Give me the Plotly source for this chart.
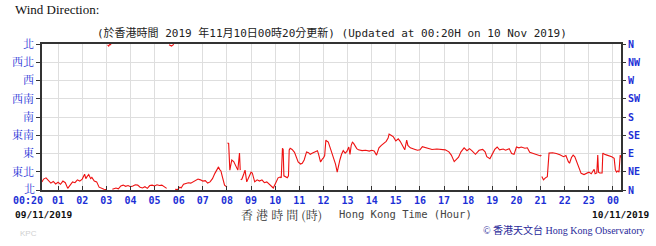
import plotly.graph_objects as go

# ---- data (hours since 00:00 on 09/11/2019, wind direction in degrees) ----
hours = [0.33,0.4,0.5,0.6,0.7,0.8,0.9,1.0,1.1,1.2,1.3,1.4,1.5,1.6,1.7,1.8,1.9,2.0,2.1,2.15,2.2,2.27,2.35,2.4,2.5,2.6,2.7,2.8,2.9,3.0,
         3.02,3.05,3.1,3.15,3.2,3.22,
         3.25,3.4,3.5,3.6,3.7,3.8,3.9,4.0,4.1,4.2,4.3,4.4,4.5,4.6,4.7,4.8,4.9,5.0,5.1,5.2,5.3,5.4,5.5,
         5.55,5.6,5.7,5.8,5.82,
         5.85,5.95,6.05,6.1,6.2,6.3,6.4,6.5,6.6,6.7,6.8,6.9,7.0,7.1,7.2,7.3,7.4,7.5,7.6,7.65,7.7,7.75,7.8,7.85,7.9,8.0,
         8.01,
         8.02,8.07,8.12,8.2,8.28,8.35,8.45,8.52,8.55,
         8.56,
         8.57,8.62,8.7,8.75,8.82,8.9,9.0,9.05,9.15,9.25,9.35,9.45,9.55,9.65,9.75,9.85,9.92,10.0,10.05,10.12,10.2,10.25,
         10.3,10.33,10.36,10.42,10.5,10.55,10.58,10.62,10.7,10.8,10.9,10.95,11.05,11.12,11.2,11.25,11.3,11.38,11.45,11.55,
         11.65,11.75,11.8,11.88,11.95,12.0,12.05,12.1,12.15,12.2,12.3,12.38,12.45,12.5,12.57,12.62,12.68,12.75,12.82,12.9,
         12.97,13.05,13.1,13.15,13.2,13.25,13.3,13.38,13.45,13.6,13.75,13.9,14.0,14.1,14.2,14.3,14.4,14.5,14.6,14.68,14.72,
         14.8,14.9,15.0,15.1,15.18,15.28,15.37,15.45,15.5,15.6,15.7,15.8,15.9,16.0,16.1,16.2,16.35,16.5,16.7,16.9,17.05,
         17.2,17.3,17.42,17.5,17.6,17.7,17.83,17.95,18.05,18.15,18.3,18.45,18.6,18.7,18.77,18.9,19.0,19.1,19.2,19.3,19.45,
         19.55,19.7,19.8,19.9,20.0,20.1,20.2,20.35,20.45,20.55,20.7,20.85,21.0,21.03,
         21.04,
         21.05,21.12,21.2,21.28,21.35,21.5,21.65,21.8,21.95,22.05,22.15,22.2,22.28,22.35,22.42,22.5,22.6,22.68,22.8,22.9,
         23.0,23.1,23.18,23.22,23.26,23.33,23.37,23.4,23.45,23.55,23.58,23.65,23.75,23.85,23.95,24.05,24.1,24.15,24.2,
         24.25,24.3,24.33]
direction = [20,27,30,22,17,21,15,19,14,22,18,4,12,20,18,25,22,27,39,28,33,38,28,31,22,20,7,4,2,1,
             None,358,355,360,357,None,
             2,5,3,10,12,9,11,8,10,13,12,7,5,8,4,11,12,10,13,11,12,8,4,
             None,358,355,359,None,
             2,1,7,5,14,16,18,17,21,24,27,25,22,23,17,20,28,41,52,57,50,47,35,20,12,7,
             None,
             116,115,49,74,70,60,49,91,49,
             None,
             25,27,40,49,20,32,44,42,20,25,22,25,18,20,14,10,5,15,20,30,32,30,
             103,100,35,32,30,35,99,103,100,93,75,69,64,66,74,85,94,92,88,91,
             95,97,88,69,76,79,85,123,120,118,100,86,70,64,44,60,74,88,97,91,
             95,106,88,110,118,115,110,102,99,97,98,96,98,96,86,104,110,114,120,128,138,
             135,131,121,126,120,110,99,123,110,104,101,100,98,99,107,105,103,100,101,100,99,
             94,86,70,75,81,94,104,97,102,97,88,98,100,94,82,77,90,100,106,99,101,
             98,102,90,88,106,104,106,103,104,93,90,86,84,86,
             None,
             33,25,30,33,91,92,90,87,82,85,70,66,80,86,82,68,50,41,38,42,
             44,40,48,51,40,42,86,44,42,42,91,88,86,84,82,78,50,44,47,
             44,86,80]

deg_ticks = [0, 45, 90, 135, 180, 225, 270, 315, 360]
zh_dir_labels = ['北', '東北', '東', '東南', '南', '西南', '西', '西北', '北']
en_dir_labels = ['N', 'NE', 'E', 'SE', 'S', 'SW', 'W', 'NW', 'N']
hour_ticks = list(range(1, 25))
hour_labels = ['%02d' % (h % 24) for h in hour_ticks]
start_label = '00:20'

BLUE = '#1c2fd6'
W, H = 656, 246
L, R, T, B = 34, 621, 44, 190

def px(x):
    return (x - L) / (R - L)

def py(y):
    return (B - y) / (B - T)

fig = go.Figure()
fig.add_trace(go.Scatter(x=hours, y=direction, mode='lines',
                         line=dict(color='#ee1111', width=1.1), connectgaps=False,
                         hoverinfo='skip', showlegend=False))
fig.add_trace(go.Scatter(x=[None], y=[None], yaxis='y2', mode='lines', showlegend=False))

left_text = [''] + zh_dir_labels[1:]
ZH_FONT = dict(family='Noto Serif CJK TC, Noto Sans CJK TC', size=11, color=BLUE)

fig.update_layout(
    width=W, height=H,
    margin=dict(l=L, r=W - R, t=T, b=H - B, pad=0),
    paper_bgcolor='white', plot_bgcolor='white',
    xaxis=dict(range=[0.3333, 24.3333], tickvals=hour_ticks, ticktext=hour_labels,
               ticks='inside', ticklen=4, tickcolor='#333', tickwidth=1,
               showgrid=True, gridcolor='#dedede', gridwidth=1,
               showline=True, linecolor='#333', linewidth=1.5, mirror=True,
               tickfont=dict(family='DejaVu Sans Mono', size=10, color=BLUE, weight='bold'),
               zeroline=False, fixedrange=True),
    yaxis=dict(range=[0, 360], tickvals=deg_ticks, ticktext=left_text,
               ticks='outside', ticklen=4, tickcolor='#333', tickwidth=1,
               showgrid=True, gridcolor='#dedede', gridwidth=1,
               showline=True, linecolor='#333', linewidth=1.5, mirror=True,
               tickfont=ZH_FONT,
               zeroline=False, fixedrange=True),
    yaxis2=dict(range=[0, 360], tickvals=deg_ticks, ticktext=en_dir_labels,
                overlaying='y', side='right', anchor='x',
                ticks='outside', ticklen=4, tickcolor='#333', tickwidth=1,
                showgrid=False, showline=False,
                tickfont=dict(family='DejaVu Sans Mono', size=10, color=BLUE, weight='bold'),
                zeroline=False, fixedrange=True),
)

annotations = [
    dict(text='Wind Direction:', x=5, y=10, xanchor='left',
         font=dict(family='Liberation Serif', size=13, color='#111')),
    dict(text='(於香港時間 2019 年11月10日00時20分更新) (Updated at 00:20H on 10 Nov 2019)',
         x=328, y=33, xanchor='center',
         font=dict(family='DejaVu Sans Mono, Noto Sans CJK TC', size=11, color='#222')),
    dict(text=zh_dir_labels[0], x=29, y=188, xanchor='right', font=ZH_FONT),
    dict(text=start_label, x=37, y=200, xanchor='right',
         font=dict(family='DejaVu Sans Mono', size=10, color=BLUE, weight='bold')),
    dict(text='09/11/2019', x=5, y=214, xanchor='left',
         font=dict(family='DejaVu Sans Mono', size=9.5, color='#111', weight='bold')),
    dict(text='10/11/2019', x=651, y=214, xanchor='right',
         font=dict(family='DejaVu Sans Mono', size=9.5, color='#111', weight='bold')),
    dict(text='香 港 時 間 (時)', x=320, y=214, xanchor='right',
         font=dict(family='Noto Serif CJK TC, Noto Sans CJK TC', size=12, color='#333')),
    dict(text='Hong Kong Time (Hour)', x=333, y=214, xanchor='left',
         font=dict(family='DejaVu Sans Mono', size=10.5, color='#444')),
    dict(text='© 香港天文台 Hong Kong Observatory', x=646, y=230, xanchor='right',
         font=dict(family='Liberation Serif, Noto Sans CJK TC', size=10, color='#2a2a9a')),
    dict(text='KPC', x=10, y=233, xanchor='left',
         font=dict(family='Liberation Sans', size=8, color='#d0d0d0')),
]
for a in annotations:
    fig.add_annotation(text=a['text'], xref='paper', yref='paper',
                       x=px(a['x']), y=py(a['y']), xanchor=a['xanchor'], yanchor='middle',
                       showarrow=False, font=a['font'])

fig.write_html('out.html')
